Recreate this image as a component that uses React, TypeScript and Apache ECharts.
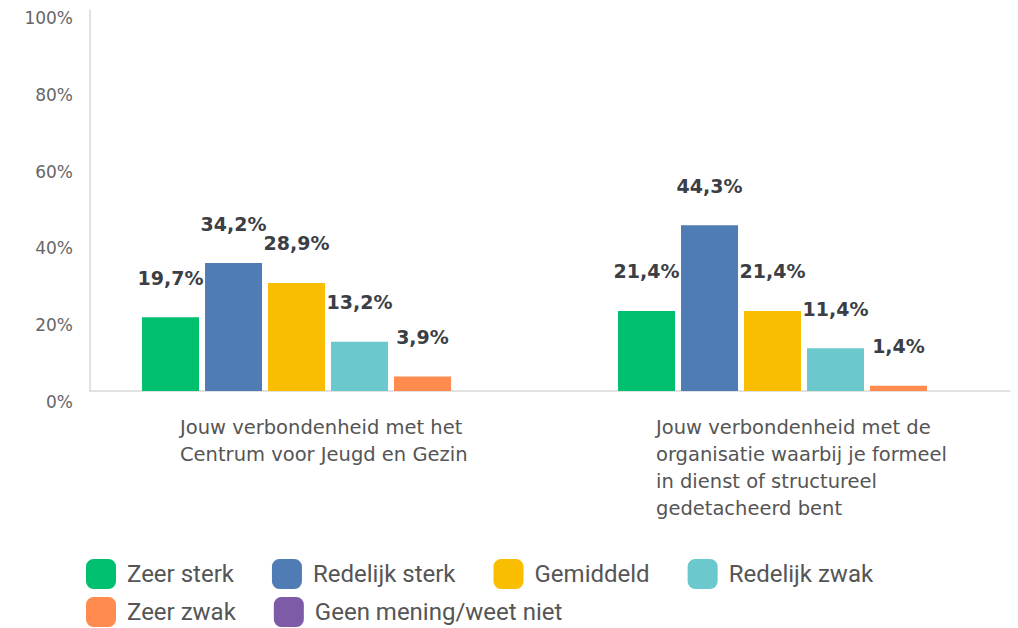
import React, { useEffect, useRef } from "react";
import * as echarts from "echarts";

const categories = [
  "Jouw verbondenheid met het\nCentrum voor Jeugd en Gezin",
  "Jouw verbondenheid met de\norganisatie waarbij je formeel\nin dienst of structureel\ngedetacheerd bent",
];
const seriesNames = ["Zeer sterk", "Redelijk sterk", "Gemiddeld", "Redelijk zwak", "Zeer zwak", "Geen mening/weet niet"];
const zeerSterk = [19.7, 21.4];
const redelijkSterk = [34.2, 44.3];
const gemiddeld = [28.9, 21.4];
const redelijkZwak = [13.2, 11.4];
const zeerZwak = [3.9, 1.4];
const geenMening = [0, 0];
const yTicks = [0, 20, 40, 60, 80, 100];
const colors = ["#00BF6F", "#507CB6", "#F9BE00", "#6BC8CD", "#FF8B4F", "#7D5BA6"];

export default function App() {
  const ref = useRef<HTMLDivElement>(null);
  useEffect(() => {
    if (!ref.current) return;
    const chart = echarts.init(ref.current, null, { renderer: "svg" });
    const values = [zeerSterk, redelijkSterk, gemiddeld, redelijkZwak, zeerZwak, geenMening];
    const legendBase = {
      left: 86,
      padding: 0,
      icon: "roundRect",
      itemWidth: 30,
      itemHeight: 30,
      itemGap: 38,
      textStyle: { fontSize: 24, color: "#555", fontFamily: "Roboto", padding: [0, 0, 0, 6] },
    };
    const lineColor = "#d9d9d9";
    chart.setOption({
      animation: false,
      color: colors,
      grid: [
        { left: 328, top: 17, width: 476, height: 374 },
        { left: 90, right: 8, top: 10, height: 381 },
        { left: 90, right: 8, top: 18, height: 384 },
      ],
      xAxis: [
        {
          type: "category",
          gridIndex: 0,
          data: categories,
          boundaryGap: false,
          axisLine: { show: false },
          axisTick: { show: false },
          axisLabel: {
            margin: 23,
            interval: 0,
            formatter: (v: string) => v.split("\n").map((l) => `{a|${l}}`).join("\n"),
            rich: {
              a: { width: 296, align: "left", fontSize: 19.5, lineHeight: 27, color: "#555", fontFamily: "DejaVu Sans" },
            },
          },
        },
        {
          type: "value",
          gridIndex: 1,
          axisLine: { show: true, lineStyle: { color: lineColor, width: 1.5 } },
          axisTick: { show: false },
          axisLabel: { show: false },
          splitLine: { show: false },
        },
        {
          type: "value",
          gridIndex: 2,
          show: false,
        },
      ],
      yAxis: [
        {
          type: "value",
          gridIndex: 0,
          min: 0,
          max: 100,
          interval: 20,
          show: false,
        },
        {
          type: "value",
          gridIndex: 1,
          axisLine: { show: true, lineStyle: { color: lineColor, width: 1.5 } },
          axisTick: { show: false },
          axisLabel: { show: false },
          splitLine: { show: false },
        },
        {
          type: "value",
          gridIndex: 2,
          min: 0,
          max: 100,
          interval: 20,
          axisLine: { show: false },
          axisTick: { show: false },
          splitLine: { show: false },
          axisLabel: {
            margin: 17,
            fontSize: 17,
            color: "#666",
            fontFamily: "DejaVu Sans",
            formatter: (v: number) => (yTicks.includes(v) ? `${v}%` : ""),
          },
        },
      ],
      legend: [
        { ...legendBase, data: seriesNames.slice(0, 4), top: 559 },
        { ...legendBase, data: seriesNames.slice(4), top: 597 },
      ],
      series: seriesNames.map((name, i) => ({
        name,
        type: "bar",
        xAxisIndex: 0,
        yAxisIndex: 0,
        clip: false,
        data: values[i],
        barWidth: 57,
        barGap: "10.5%",
        label: {
          show: true,
          position: "top",
          distance: 30,
          fontSize: 19,
          fontWeight: "bold",
          color: "#3b3f45",
          fontFamily: "DejaVu Sans",
          formatter: (p: any) => (p.value ? `${p.value.toFixed(1).replace(".", ",")}%` : ""),
        },
      })),
    });
    return () => chart.dispose();
  }, []);
  return <div ref={ref} style={{ position: "absolute", left: 0, top: 0, width: 1018, height: 628 }} />;
}
